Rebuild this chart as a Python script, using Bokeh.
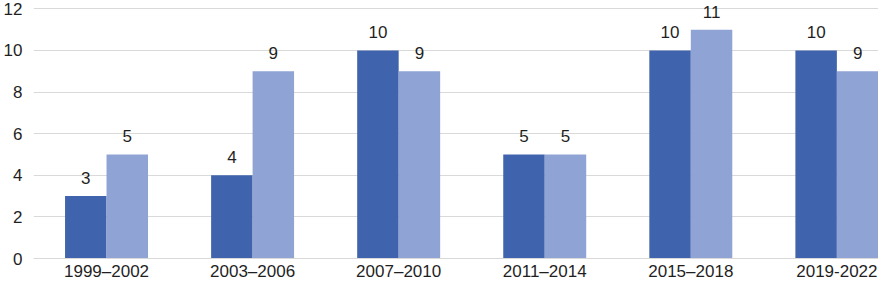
from bokeh.plotting import figure
from bokeh.models import ColumnDataSource, LabelSet, Range1d, FixedTicker
from bokeh.transform import dodge
from bokeh.core.properties import value
from bokeh.embed import file_html
from bokeh.resources import INLINE

periods = ["1999–2002", "2003–2006", "2007–2010", "2011–2014", "2015–2018", "2019-2022"]
series_a = [3, 4, 10, 5, 10, 10]
series_b = [5, 9, 9, 5, 11, 9]
y_ticks = [0, 2, 4, 6, 8, 10, 12]

# category slots on a numeric axis (centre of each slot), labels via overrides
xpos = [i + 0.5 for i in range(len(periods))]

src = ColumnDataSource(dict(
    x=xpos, a=series_a, b=series_b,
    a_txt=[str(v) for v in series_a], b_txt=[str(v) for v in series_b],
))

FONT = "Liberation Sans"
TXT = "#1F1F1F"
GRID = "#D9D9D9"

p = figure(x_range=Range1d(0, 5.785), y_range=Range1d(0, 12.4), width=878, height=287,
           output_backend="svg", toolbar_location=None,
           min_border_left=0, min_border_right=0, min_border_top=0, min_border_bottom=29)
p.outline_line_color = None
p.background_fill_color = "white"

W = 0.284
p.vbar(x=dodge("x", -W / 2), top="a", width=W, bottom=0,
       source=src, fill_color="#3F63AC", line_color=None)
p.vbar(x=dodge("x", W / 2), top="b", width=W, bottom=0,
       source=src, fill_color="#8FA4D4", line_color=None)

for col, txt, off in (("a", "a_txt", -W / 2), ("b", "b_txt", W / 2)):
    p.add_layout(LabelSet(x=dodge("x", off), y=col, text=txt,
                          source=src, text_align="center", text_baseline="alphabetic",
                          y_offset=12, text_font=value(FONT), text_font_size=value("17px"),
                          text_color=TXT))

p.xgrid.grid_line_color = None
p.ygrid.grid_line_color = GRID
p.ygrid.ticker = FixedTicker(ticks=y_ticks)
p.yaxis.ticker = FixedTicker(ticks=y_ticks)
p.yaxis.axis_line_color = None
p.yaxis.major_tick_line_color = None
p.yaxis.minor_tick_line_color = None
p.yaxis.major_label_standoff = 5
p.xaxis.ticker = FixedTicker(ticks=xpos)
p.xaxis.major_label_overrides = {x: lab for x, lab in zip(xpos, periods)}
p.xaxis.axis_line_color = GRID
p.xaxis.major_tick_line_color = None
p.xaxis.minor_tick_line_color = None
p.xaxis.major_label_standoff = -3
for ax in (p.xaxis, p.yaxis):
    ax.major_label_text_font = FONT
    ax.major_label_text_font_size = "17px"
    ax.major_label_text_color = TXT

open("out.html", "w").write(file_html(p, INLINE))
